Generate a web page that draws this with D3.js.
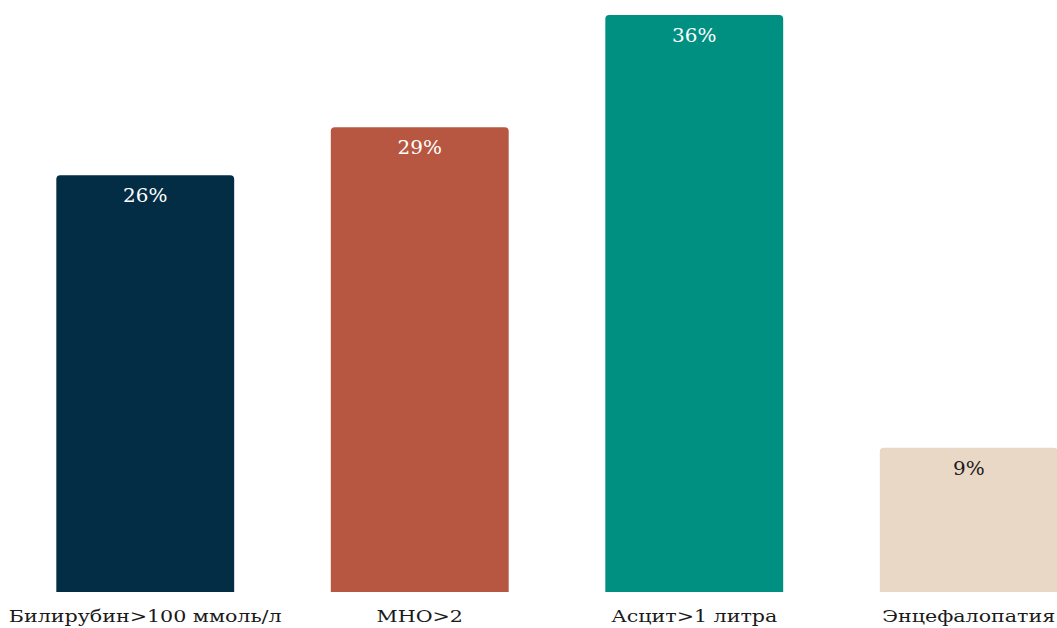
<!DOCTYPE html>
<html>
<head>
<meta charset="utf-8">
<script src="https://cdn.jsdelivr.net/npm/d3@7"></script>
<style>
  html, body { margin: 0; padding: 0; background: #fff; }
  svg { display: block; }
  .val text, .tick text { font-family: "DejaVu Serif", serif; }
</style>
</head>
<body>
<svg id="chart" width="1057" height="628"></svg>
<script>
// Доля пациентов по критериям
const categories = ["Билирубин>100 ммоль/л", "МНО>2", "Асцит>1 литра", "Энцефалопатия"];
const values = [26, 29, 36, 9];
const barColors = ["#032c45", "#b75741", "#009082", "#ead8c7"];
const labelColors = ["#ffffff", "#ffffff", "#ffffff", "#1a1a1a"];

const svg = d3.select("#chart");
const baseY = 592, topY = 15;

const x = d3.scaleBand()
  .domain(categories)
  .range([8, 1106])
  .paddingInner(0.352)
  .paddingOuter(0.176);

const y = d3.scaleLinear()
  .domain([0, 36])
  .range([baseY, topY]);

// bar with rounded top corners
function barPath(x0, y0, w, h, r) {
  return `M${x0},${y0 + h}V${y0 + r}Q${x0},${y0} ${x0 + r},${y0}` +
         `H${x0 + w - r}Q${x0 + w},${y0} ${x0 + w},${y0 + r}V${y0 + h}Z`;
}

const g = svg.append("g");

g.selectAll("path.bar")
  .data(categories)
  .join("path")
  .attr("class", "bar")
  .attr("fill", (d, i) => barColors[i])
  .attr("d", (d, i) => barPath(x(d), y(values[i]), x.bandwidth(), baseY - y(values[i]), 4));

// value labels
g.selectAll("g.val")
  .data(categories)
  .join("g")
  .attr("class", "val")
  .attr("transform", (d, i) => `translate(${x(d) + x.bandwidth() / 2},${y(values[i]) + 27}) scale(1.05,1)`)
  .append("text")
  .attr("text-anchor", "middle")
  .style("font-size", "19px")
  .attr("fill", (d, i) => labelColors[i])
  .text((d, i) => values[i] + "%");

// category axis, widened type
const axis = d3.axisBottom(x).tickSize(0).tickPadding(0);
const ax = svg.append("g")
  .attr("transform", `translate(0,${baseY})`)
  .call(axis);
ax.attr("font-family", null);
ax.select(".domain").remove();
ax.selectAll(".tick text")
  .attr("y", 30)
  .attr("dy", 0)
  .attr("transform", "scale(1.25,1)")
  .style("font-size", "16.5px")
  .attr("fill", "#1a1a1a");
</script>
</body>
</html>
